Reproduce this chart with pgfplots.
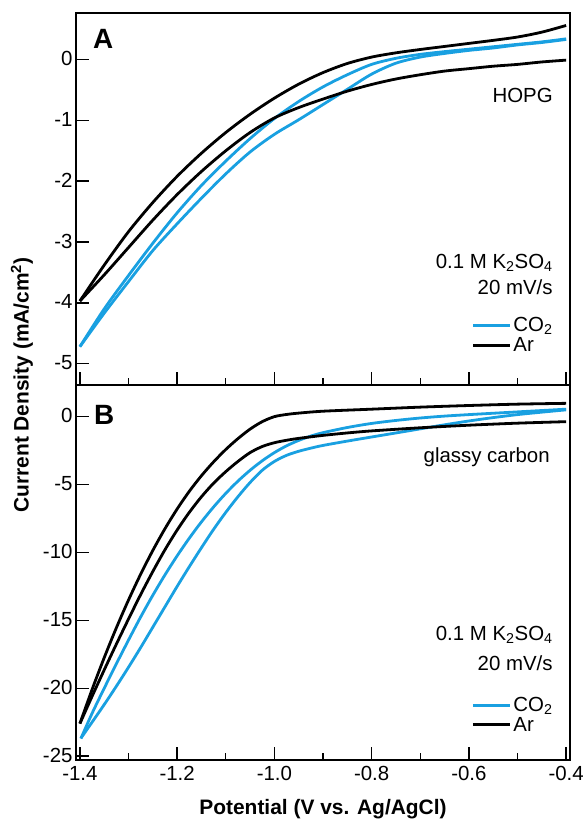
\documentclass[border=0pt]{standalone}
\usepackage{pgfplots}
\pgfplotsset{compat=1.18}
\usepackage{fontspec}
\setmainfont{Liberation Sans}
\definecolor{cvblue}{RGB}{25,160,225}

\newcommand{\tickfont}{\fontsize{20.5}{20.5}\selectfont}
\newcommand{\labfont}{\bfseries\fontsize{21}{21}\selectfont}

\pgfplotsset{
  cvpanel/.style={
    scale only axis, width=494bp,
    xmin=-1.408, xmax=-0.392,
    xtick={-1.4,-1.2,-1.0,-0.8,-0.6,-0.4},
    minor xtick={-1.3,-1.1,-0.9,-0.7,-0.5},
    tick pos=left, tick align=inside,
    major tick length=13bp, minor tick length=7bp,
    every tick/.style={black, line width=1.4bp},
    axis line style={line width=1.6bp},
    tick label style={font=\tickfont},
    xticklabel style={yshift=-3bp},
    yticklabel style={yshift=1bp},
    legend style={draw=none, fill=none, font=\tickfont, row sep=0bp,
      cells={anchor=west},
      at={(axis description cs:0.975,0.075)}, anchor=south east},
    legend image code/.code={\draw[##1] (0bp,0bp) -- (37bp,0bp);},
  },
  cv/.style={line width=2.8bp, smooth},
}

\begin{document}
\begin{tikzpicture}
\path[use as bounding box] (-76bp,-61bp) rectangle (508bp,760bp);

% ---- panel A : HOPG ----
\begin{axis}[cvpanel, at={(0,375bp)}, anchor=south west, height=372bp,
  ymin=-5.35, ymax=0.765,
  ytick={-5,-4,-3,-2,-1,0}, yticklabels={-5,-4,-3,-2,-1,0},
  xticklabels={}]
\addplot[cv, cvblue] coordinates {
 (-1.40,-4.72) (-1.35,-4.10) (-1.30,-3.55) (-1.25,-3.02) (-1.20,-2.52)
 (-1.15,-2.07) (-1.10,-1.67) (-1.05,-1.30) (-1.00,-0.97) (-0.95,-0.69)
 (-0.90,-0.45) (-0.85,-0.25) (-0.80,-0.08) (-0.75,0.02) (-0.70,0.085)
 (-0.65,0.13) (-0.60,0.17) (-0.55,0.21) (-0.50,0.25) (-0.45,0.29) (-0.40,0.34)};
\addlegendentry{CO\textsubscript{2}}
\addplot[cv, cvblue, forget plot] coordinates {
 (-1.40,-4.72) (-1.35,-4.17) (-1.30,-3.65) (-1.25,-3.14) (-1.20,-2.70)
 (-1.15,-2.28) (-1.10,-1.88) (-1.05,-1.52) (-1.00,-1.23) (-0.95,-0.99)
 (-0.90,-0.74) (-0.85,-0.49) (-0.80,-0.24) (-0.75,-0.06) (-0.70,0.04)
 (-0.65,0.10) (-0.60,0.15) (-0.55,0.19) (-0.50,0.24) (-0.45,0.28) (-0.40,0.33)};
\addplot[cv, black] coordinates {
 (-1.40,-3.97) (-1.35,-3.38) (-1.30,-2.83) (-1.25,-2.35) (-1.20,-1.92)
 (-1.15,-1.54) (-1.10,-1.20) (-1.05,-0.90) (-1.00,-0.635) (-0.95,-0.405)
 (-0.90,-0.215) (-0.85,-0.065) (-0.80,0.04) (-0.75,0.11) (-0.70,0.165)
 (-0.65,0.215) (-0.60,0.265) (-0.55,0.315) (-0.50,0.37) (-0.45,0.45) (-0.40,0.56)};
\addlegendentry{Ar}
\addplot[cv, black, forget plot] coordinates {
 (-1.40,-3.97) (-1.35,-3.54) (-1.30,-3.09) (-1.25,-2.64) (-1.20,-2.22)
 (-1.15,-1.84) (-1.10,-1.50) (-1.05,-1.20) (-1.00,-0.96) (-0.95,-0.79)
 (-0.90,-0.65) (-0.85,-0.52) (-0.80,-0.41) (-0.75,-0.32) (-0.70,-0.25)
 (-0.65,-0.19) (-0.60,-0.15) (-0.55,-0.11) (-0.50,-0.08) (-0.45,-0.04) (-0.40,-0.01)};
\node[font=\bfseries\fontsize{28}{28}\selectfont] at (rel axis cs:0.055,0.93) {A};
\node[anchor=east, font=\tickfont] at (rel axis cs:0.972,0.777) {HOPG};
\node[anchor=east, font=\tickfont] at (rel axis cs:0.972,0.328) {0.1 M K\textsubscript{2}SO\textsubscript{4}};
\node[anchor=east, font=\tickfont] at (rel axis cs:0.972,0.263) {20 mV/s};
\end{axis}

% ---- panel B : glassy carbon ----
\begin{axis}[cvpanel, at={(0,0)}, anchor=south west, height=375bp,
  ymin=-25.28, ymax=2.33,
  ytick={-25,-20,-15,-10,-5,0}, yticklabels={-25,-20,-15,-10,-5,0},
  xticklabels={-1.4,-1.2,-1.0,-0.8,-0.6,-0.4},
  legend style={at={(axis description cs:0.975,0.062)}},
  xlabel={Potential (V vs. Ag/AgCl)},
  ylabel={Current Density (mA/cm\textsuperscript{2})},
  label style={font=\labfont},
  xlabel style={at={(axis description cs:0.5,-0.13)}, anchor=center},
  ylabel style={at={(axis description cs:-0.1093,1)}, anchor=center}]
\addplot[cv, cvblue] coordinates {
 (-1.398,-23.7) (-1.375,-21.85) (-1.35,-20.0) (-1.325,-18.2) (-1.30,-16.45)
 (-1.275,-14.75) (-1.25,-13.15) (-1.225,-11.65) (-1.20,-10.25) (-1.175,-8.95)
 (-1.15,-7.75) (-1.125,-6.65) (-1.10,-5.65) (-1.075,-4.75) (-1.05,-3.95)
 (-1.025,-3.25) (-1.00,-2.65) (-0.975,-2.15) (-0.95,-1.75) (-0.925,-1.43)
 (-0.90,-1.18) (-0.85,-0.80) (-0.80,-0.50) (-0.75,-0.28) (-0.70,-0.10)
 (-0.65,0.04) (-0.60,0.15) (-0.55,0.25) (-0.50,0.35) (-0.45,0.45) (-0.40,0.55)};
\addlegendentry{CO\textsubscript{2}}
\addplot[cv, cvblue, forget plot] coordinates {
 (-1.398,-23.68) (-1.375,-22.5) (-1.35,-21.2) (-1.325,-19.85) (-1.30,-18.45)
 (-1.275,-17.0) (-1.25,-15.5) (-1.225,-14.0) (-1.20,-12.5) (-1.175,-11.05)
 (-1.15,-9.65) (-1.125,-8.3) (-1.10,-7.05) (-1.075,-5.9) (-1.05,-4.85)
 (-1.025,-3.95) (-1.00,-3.3) (-0.975,-2.85) (-0.95,-2.55) (-0.925,-2.32)
 (-0.90,-2.12) (-0.85,-1.8) (-0.80,-1.5) (-0.75,-1.2) (-0.70,-0.9)
 (-0.65,-0.6) (-0.60,-0.32) (-0.55,-0.07) (-0.50,0.15) (-0.45,0.33) (-0.40,0.50)};
\addplot[cv, black] coordinates {
 (-1.40,-22.6) (-1.375,-20.1) (-1.35,-17.75) (-1.325,-15.55) (-1.30,-13.5)
 (-1.275,-11.6) (-1.25,-9.85) (-1.225,-8.25) (-1.20,-6.8) (-1.175,-5.5)
 (-1.15,-4.35) (-1.125,-3.33) (-1.10,-2.42) (-1.075,-1.62) (-1.05,-0.92)
 (-1.025,-0.37) (-1.00,0.0) (-0.975,0.16) (-0.95,0.26) (-0.90,0.40)
 (-0.80,0.55) (-0.70,0.70) (-0.60,0.82) (-0.50,0.92) (-0.40,0.98)};
\addlegendentry{Ar}
\addplot[cv, black, forget plot] coordinates {
 (-1.40,-22.6) (-1.375,-20.6) (-1.35,-18.65) (-1.325,-16.75) (-1.30,-14.9)
 (-1.275,-13.1) (-1.25,-11.4) (-1.225,-9.8) (-1.20,-8.35) (-1.175,-7.05)
 (-1.15,-5.9) (-1.125,-4.9) (-1.10,-4.05) (-1.075,-3.3) (-1.05,-2.65)
 (-1.025,-2.2) (-1.00,-1.92) (-0.975,-1.74) (-0.95,-1.6) (-0.90,-1.38)
 (-0.85,-1.2) (-0.80,-1.05) (-0.70,-0.82) (-0.60,-0.63) (-0.50,-0.48) (-0.40,-0.37)};
\node[font=\bfseries\fontsize{28}{28}\selectfont] at (rel axis cs:0.057,0.92) {B};
\node[anchor=east, font=\tickfont] at (rel axis cs:0.966,0.808) {glassy carbon};
\node[anchor=east, font=\tickfont] at (rel axis cs:0.972,0.333) {0.1 M K\textsubscript{2}SO\textsubscript{4}};
\node[anchor=east, font=\tickfont] at (rel axis cs:0.972,0.259) {20 mV/s};
\end{axis}
\end{tikzpicture}
\end{document}
